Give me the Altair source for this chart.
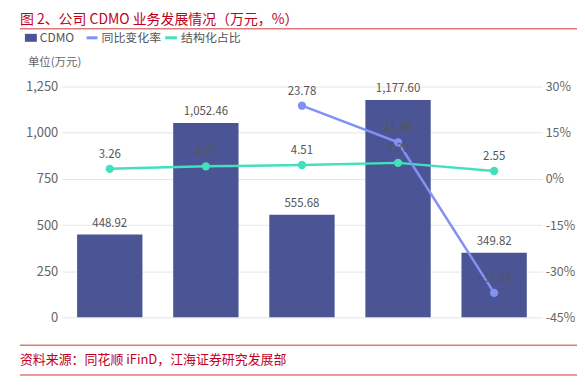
import altair as alt
import pandas as pd

categories = ["2022中报", "2022年报", "2023中报", "2023年报", "2024中报"]
cdmo = [448.92, 1052.46, 555.68, 1177.60, 349.82]
growth = [None, None, 23.78, 11.89, -37.05]
ratio = [3.26, 4.07, 4.51, 5.20, 2.55]

FONT = "Noto Sans CJK SC"
BAR_C = "#4b5595"
GROW_C = "#8391f2"
RATIO_C = "#42e0bd"
RED = "#c0001e"
RED_LINE = "#e07a7a"

bars_df = pd.DataFrame({"cat": categories, "v": cdmo})
rows = []
for c, g, r in zip(categories, growth, ratio):
    if g is not None:
        rows.append({"cat": c, "s": "同比变化率", "v": g})
    rows.append({"cat": c, "s": "结构化占比", "v": r})
lines_df = pd.DataFrame(rows)

W, H = 483, 232
xenc = alt.X("cat:N", sort=categories, title=None,
             scale=alt.Scale(paddingInner=0.32, paddingOuter=0.16),
             axis=alt.Axis(labelAngle=0, ticks=False, domainColor="#b8bccc", labelFontSize=13,
                           labelColor="#666666", labelFont=FONT, labelPadding=5))
yl_scale = alt.Scale(domain=[0, 1250], nice=False)
yr_scale = alt.Scale(domain=[-45, 30], nice=False)
col_scale = alt.Scale(domain=["同比变化率", "结构化占比"], range=[GROW_C, RATIO_C])

bars = alt.Chart(bars_df).mark_bar(color=BAR_C).encode(
    x=xenc,
    y=alt.Y("v:Q", scale=yl_scale, title=None,
            axis=alt.Axis(values=[0, 250, 500, 750, 1000, 1250], format=",d", ticks=False,
                          domain=False, gridColor="#e3e5ee", labelFontSize=13,
                          labelColor="#666666", labelFont=FONT, labelPadding=4)),
)
bar_text = alt.Chart(bars_df).mark_text(baseline="bottom", dy=-6, fontSize=11.5, color="#555555", font=FONT).encode(
    x=alt.X("cat:N", sort=categories, axis=None), y=alt.Y("v:Q", scale=yl_scale, axis=None),
    text=alt.Text("v:Q", format=",.2f"),
)

line = alt.Chart(lines_df).mark_line(strokeWidth=2.5).encode(
    x=alt.X("cat:N", sort=categories, axis=None),
    y=alt.Y("v:Q", scale=yr_scale, title=None,
            axis=alt.Axis(orient="right", values=[-45, -30, -15, 0, 15, 30], labelExpr="datum.value + '%'",
                          grid=False, ticks=False, domain=False, labelFontSize=12.5,
                          labelColor="#666666", labelFont=FONT, labelPadding=3)),
    color=alt.Color("s:N", scale=col_scale, legend=None),
    detail="s:N",
)
pts = alt.Chart(lines_df).mark_circle(size=70, opacity=1).encode(
    x=alt.X("cat:N", sort=categories, axis=None),
    y=alt.Y("v:Q", scale=yr_scale, axis=None),
    color=alt.Color("s:N", scale=col_scale, legend=None),
)
line_text = alt.Chart(lines_df).mark_text(baseline="bottom", dy=-9, fontSize=11.5, color="#555555", font=FONT).encode(
    x=alt.X("cat:N", sort=categories, axis=None),
    y=alt.Y("v:Q", scale=yr_scale, axis=None),
    text=alt.Text("v:Q", format=".2f"),
)

one = pd.DataFrame({"a": [0]})

def txt(s, x, y, size, color, align="left", baseline="middle"):
    return alt.Chart(one).mark_text(align=align, baseline=baseline, fontSize=size, color=color, font=FONT).encode(
        x=alt.value(x), y=alt.value(y), text=alt.value(s))

def hrule(x1, x2, y, color, w=1.5):
    return alt.Chart(one).mark_rule(color=color, strokeWidth=w).encode(
        x=alt.value(x1), x2=alt.value(x2), y=alt.value(y))

legend_rect = alt.Chart(one).mark_rect(color=BAR_C).encode(
    x=alt.value(-37), x2=alt.value(-25), y=alt.value(-53), y2=alt.value(-45))

deco = [
    txt("图 2、公司 CDMO 业务发展情况（万元，%）", -42, -67, 14, RED),
    hrule(-42, 530, -58, RED_LINE),
    legend_rect,
    txt("CDMO", -22, -49, 12, "#555555"),
    hrule(25, 36, -49, GROW_C, 3),
    txt("同比变化率", 40, -49, 12, "#555555"),
    hrule(104, 116, -49, RATIO_C, 3),
    txt("结构化占比", 120, -49, 12, "#555555"),
    txt("单位(万元)", -34, -24, 11.5, "#666666"),
    hrule(-42, 530, 260, RED_LINE),
    txt("资料来源：同花顺 iFinD，江海证券研究发展部", -42, 275, 13, RED),
    hrule(-42, 530, 290, RED_LINE),
]

chart = alt.layer(bars, bar_text, line, pts, line_text, *deco).resolve_scale(
    y="independent", color="independent"
).properties(
    width=W, height=H,
    autosize=alt.AutoSizeParams(type="none"),
    padding={"left": 54, "top": 78, "right": 35, "bottom": 60},
).configure_view(stroke=None)

chart.save("out.html", embed_options={"renderer": "svg", "actions": False})
